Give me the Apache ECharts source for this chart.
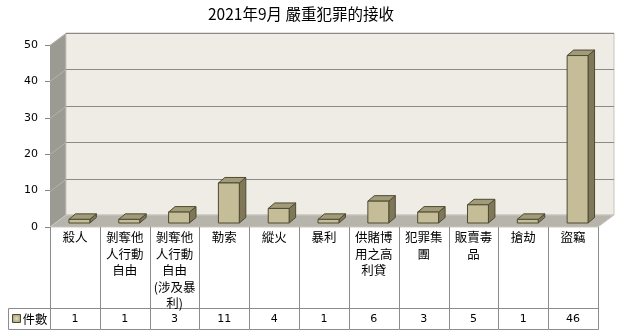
<!DOCTYPE html>
<html>
<head>
<meta charset="utf-8">
<script src="https://cdn.jsdelivr.net/npm/echarts@6/dist/echarts.min.js"></script>
<style>html,body{margin:0;padding:0;background:#fff;}#c{width:630px;height:336px;}</style>
</head>
<body>
<div id="c"></div>
<script>
const titleText = '2021年9月 嚴重犯罪的接收';
const seriesName = '件數';
const categories = ['殺人', '剝奪他\n人行動\n自由', '剝奪他\n人行動\n自由\n(涉及暴\n利)', '勒索', '縱火', '暴利', '供賭博\n用之高\n利貸', '犯罪集\n團', '販賣毒\n品', '搶劫', '盜竊'];
const counts = [1, 1, 3, 11, 4, 1, 6, 3, 5, 1, 46];
const yMin = 0, yMax = 50, yStep = 10;
const yTicks = [0, 10, 20, 30, 40, 50];

const DX = 16, DY = -12;
const CJK = '"Noto Sans CJK TC", "Liberation Sans", sans-serif';
const NUM = '"DejaVu Sans", "Noto Sans CJK TC", sans-serif';

const chart = echarts.init(document.getElementById('c'), null, {renderer: 'canvas'});

function frame(api) {
  const bw = api.size([1, 0])[0];
  const p0 = api.coord([0, yMin]);
  const pN = api.coord([categories.length - 1, yMin]);
  const L = p0[0] - bw / 2, R = pN[0] + bw / 2;
  const y0 = p0[1];
  const yTop = api.coord([0, yMax])[1];
  return {bw, L, R, y0, yTop};
}

const option = {
  animation: false,
  title: {
    text: titleText,
    left: 208, top: 6, padding: 0,
    textStyle: {fontFamily: CJK, fontSize: 15.5, fontWeight: 'normal', color: '#000'}
  },
  grid: {left: 50, right: 32, top: 45, bottom: 109, containLabel: false},
  xAxis: {
    type: 'category', data: categories, boundaryGap: true,
    axisLine: {show: false}, axisTick: {show: false}, axisLabel: {show: false}, splitLine: {show: false}
  },
  yAxis: {
    type: 'value', min: yMin, max: yMax, interval: yStep,
    axisLine: {show: false},
    axisTick: {show: true, length: 5, lineStyle: {color: '#868686'}},
    axisLabel: {margin: 12, fontFamily: NUM, fontSize: 11, color: '#000'},
    splitLine: {show: false}
  },
  series: [
    {
      type: 'custom', name: 'walls', z: 1, silent: true,
      data: [[0, 0]],
      renderItem: function (params, api) {
        const f = frame(api);
        const {L, R, y0, yTop} = f;
        const ch = [];
        // side wall
        ch.push({type: 'polygon', shape: {points: [[L, yTop], [L + DX, yTop + DY], [L + DX, y0 + DY], [L, y0]]},
          style: {fill: '#9c9b93', stroke: null}});
        // back wall
        ch.push({type: 'rect', shape: {x: L + DX, y: yTop + DY, width: R - L, height: y0 - yTop},
          style: {fill: '#eeece5', stroke: '#c6c5bf', lineWidth: 1}});
        // floor
        ch.push({type: 'polygon', shape: {points: [[L, y0], [R, y0], [R + DX, y0 + DY], [L + DX, y0 + DY]]},
          style: {fill: '#b7b4ac', stroke: '#c8c7c1', lineWidth: 1}});
        // gridlines
        yTicks.forEach(function (t) {
          const y = Math.round(api.coord([0, t])[1]) + 0.5;
          if (t !== yMin) {
            ch.push({type: 'line', shape: {x1: L + DX, y1: y + DY, x2: R + DX, y2: y + DY},
              style: {stroke: '#8a8a8a', lineWidth: 1}});
            ch.push({type: 'line', shape: {x1: L, y1: y, x2: L + DX, y2: y + DY},
              style: {stroke: '#b3b2ab', lineWidth: 1}});
          }
        });
        return {type: 'group', children: ch};
      }
    },
    {
      type: 'custom', name: seriesName, z: 3,
      data: counts.map(function (v, i) { return [i, v]; }),
      renderItem: function (params, api) {
        const i = api.value(0), v = api.value(1);
        const bw = api.size([1, 0])[0];
        const base = api.coord([i, yMin]);
        const top = api.coord([i, v]);
        const w = bw * 0.42;
        const ox = 4.5, oy = -4;
        const dx = 6.5, dy = -5.5;
        const x1 = base[0] + ox - w / 2, x2 = x1 + w;
        const yb = base[1] + oy, yt = top[1] + oy;
        const st = {stroke: '#4e4a32', lineWidth: 1, lineJoin: 'round'};
        return {type: 'group', children: [
          {type: 'polygon', shape: {points: [[x2, yt], [x2 + dx, yt + dy], [x2 + dx, yb + dy], [x2, yb]]},
            style: Object.assign({fill: '#7e7858'}, st)},
          {type: 'polygon', shape: {points: [[x1, yt], [x2, yt], [x2 + dx, yt + dy], [x1 + dx, yt + dy]]},
            style: Object.assign({fill: '#a19b79'}, st)},
          {type: 'rect', shape: {x: x1, y: yt, width: w, height: yb - yt},
            style: Object.assign({fill: '#c5bd97'}, st)}
        ]};
      }
    },
    {
      type: 'custom', name: 'table', z: 2, silent: true,
      data: counts.map(function (v, i) { return [i, v]; }),
      renderItem: function (params, api) {
        const i = api.value(0), v = api.value(1);
        const f = frame(api);
        const c = api.coord([i, yMin]);
        const left = Math.round(c[0] - f.bw / 2) + 0.5;
        const right = Math.round(c[0] + f.bw / 2) + 0.5;
        const y0 = Math.round(f.y0);
        const yMid = y0 + 81.5, yBot = y0 + 102.5;
        const lc = '#8c8c8c';
        const ch = [];
        ch.push({type: 'line', shape: {x1: left, y1: y0, x2: left, y2: yBot}, style: {stroke: lc, lineWidth: 1}});
        if (i === categories.length - 1) {
          ch.push({type: 'line', shape: {x1: right, y1: y0, x2: right, y2: yBot}, style: {stroke: lc, lineWidth: 1}});
        }
        ch.push({type: 'line', shape: {x1: left, y1: yMid, x2: right, y2: yMid}, style: {stroke: lc, lineWidth: 1}});
        ch.push({type: 'line', shape: {x1: left, y1: yBot, x2: right, y2: yBot}, style: {stroke: lc, lineWidth: 1}});
        ch.push({type: 'text', x: c[0], y: y0 + 2, style: {
          text: categories[i], align: 'center', verticalAlign: 'top',
          fontFamily: CJK, fontSize: 12.5, lineHeight: 16.5, fill: '#000'}});
        ch.push({type: 'text', x: c[0], y: y0 + 92, style: {
          text: String(v), align: 'center', verticalAlign: 'middle',
          fontFamily: NUM, fontSize: 11, fill: '#000'}});
        if (i === 0) {
          const lx = Math.round(f.L) - 42 + 0.5;
          ch.push({type: 'line', shape: {x1: lx, y1: yMid, x2: left, y2: yMid}, style: {stroke: lc, lineWidth: 1}});
          ch.push({type: 'line', shape: {x1: lx, y1: yBot, x2: left, y2: yBot}, style: {stroke: lc, lineWidth: 1}});
          ch.push({type: 'line', shape: {x1: lx, y1: yMid, x2: lx, y2: yBot}, style: {stroke: lc, lineWidth: 1}});
          ch.push({type: 'rect', shape: {x: lx + 4, y: yMid + 6, width: 8, height: 8},
            style: {fill: new echarts.graphic.RadialGradient(0.5, 0.5, 0.7, [
              {offset: 0, color: '#e2dcbc'}, {offset: 1, color: '#8f8862'}]), stroke: '#4e4a32', lineWidth: 1}});
          ch.push({type: 'text', x: lx + 14, y: yMid + 10.5, style: {
            text: seriesName, align: 'left', verticalAlign: 'middle',
            fontFamily: CJK, fontSize: 12.5, fill: '#000'}});
        }
        return {type: 'group', children: ch};
      }
    }
  ]
};
chart.setOption(option);
</script>
</body>
</html>
